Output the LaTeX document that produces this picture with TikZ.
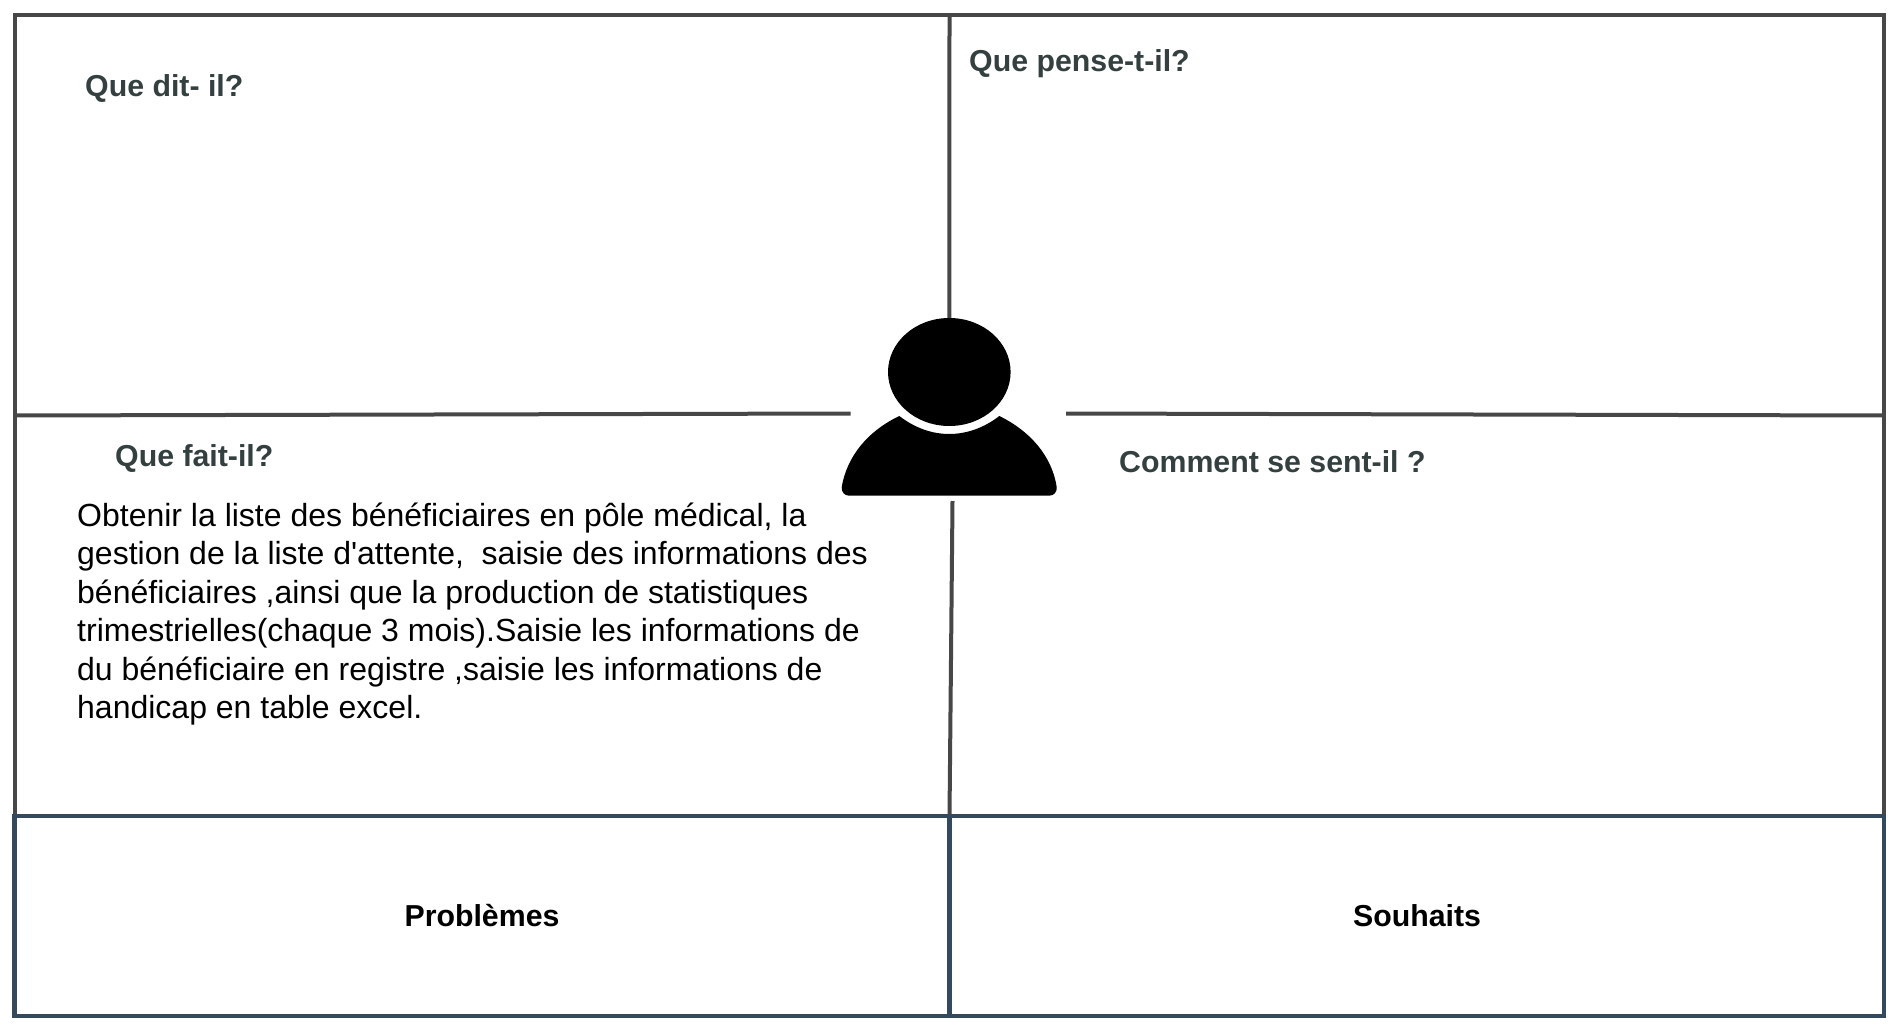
\documentclass[tikz,border=0pt]{standalone}
\usepackage{fontspec}
\setmainfont{Liberation Sans}[Ligatures=TeXOff]
\usetikzlibrary{shapes.geometric}
\definecolor{greyline}{HTML}{474747}
\definecolor{blueline}{HTML}{34495E}
\definecolor{headcol}{HTML}{33403F}
\tikzset{
  x=1pt,y=-1pt,
  greyrule/.style={draw=greyline,line width=4pt},
  bluerule/.style={draw=blueline,line width=4.4pt},
  heading/.style={anchor=base west,inner sep=0pt,font=\fontsize{30.3}{36}\selectfont\bfseries,text=headcol},
  boxlabel/.style={anchor=base,inner sep=0pt,font=\fontsize{30.3}{36}\selectfont\bfseries,text=black},
  bodytext/.style={anchor=north west,inner sep=0pt,align=left,font=\fontsize{32}{38.4}\selectfont,text=black},
  headshape/.style={ellipse,fill=black,inner sep=0pt,minimum width=122.6pt,minimum height=108pt}
}
\begin{document}
\begin{tikzpicture}
\useasboundingbox (0,0) rectangle (1897,1030);
% frame corners and junctions
\coordinate (tl) at (14.5,15.5);
\coordinate (tm) at (949.5,15.5);
\coordinate (tr) at (1884,15.5);
\coordinate (ml) at (14.5,415.5);
\coordinate (mr) at (1884,415.5);
\coordinate (lstop) at (850.5,413.5);
\coordinate (rstart) at (1066,413.5);
\coordinate (vstart) at (952.5,501);
\coordinate (bl) at (14.5,816);
\coordinate (bm) at (949.5,816);
\coordinate (br) at (1884,816);
\coordinate (el) at (14.5,1016);
\coordinate (em) at (949.5,1016);
\coordinate (er) at (1884,1016);
% person
\node[headshape] (head) at (949.3,372) {};
\fill[black] (899.3,416) .. controls (915,428) and (932,434) .. (949.3,434)
  .. controls (966,434) and (984,428) .. (999.3,416)
  .. controls (1030,431) and (1052,456) .. (1056.7,487)
  .. controls (1057.2,492) and (1054,495.7) .. (1049,495.7)
  -- (849,495.7)
  .. controls (844.5,495.7) and (841.3,492) .. (841.7,487)
  .. controls (847,456) and (868,431) .. (899.3,416) -- cycle;
% upper frame
\draw[greyrule] (bl) -- (tl) -- (tr) -- (br);
\draw[greyrule] (tm) -- (head.north);
\draw[greyrule] (ml) -- (lstop);
\draw[greyrule] (rstart) -- (mr);
\draw[greyrule] (vstart) -- (bm);
% lower frame
\draw[bluerule] (bl) -- (br) -- (er) -- (el) -- cycle;
\draw[bluerule] (bm) -- (em);
% texts
\node[heading] (dit) at (85,97) {Que dit- il?};
\node[heading] (pense) at (969,71.5) {Que pense-t-il?};
\node[heading] (fait) at (115,466) {Que fait-il?};
\node[heading] (sent) at (1119,472) {Comment se sent-il ?};
\node[bodytext] (body) at (77,502.7) {Obtenir la liste des bénéficiaires en pôle médical, la\\
gestion de la liste d'attente,~ saisie des informations des\\
bénéficiaires ,ainsi que la production de statistiques\\
trimestrielles(chaque 3 mois).Saisie les informations de\\
du bénéficiaire en registre ,saisie les informations de\\
handicap en table excel.};
\node[boxlabel] (prob) at (482,926) {Problèmes};
\node[boxlabel] (souh) at (1417,926) {Souhaits};
\end{tikzpicture}
\end{document}
